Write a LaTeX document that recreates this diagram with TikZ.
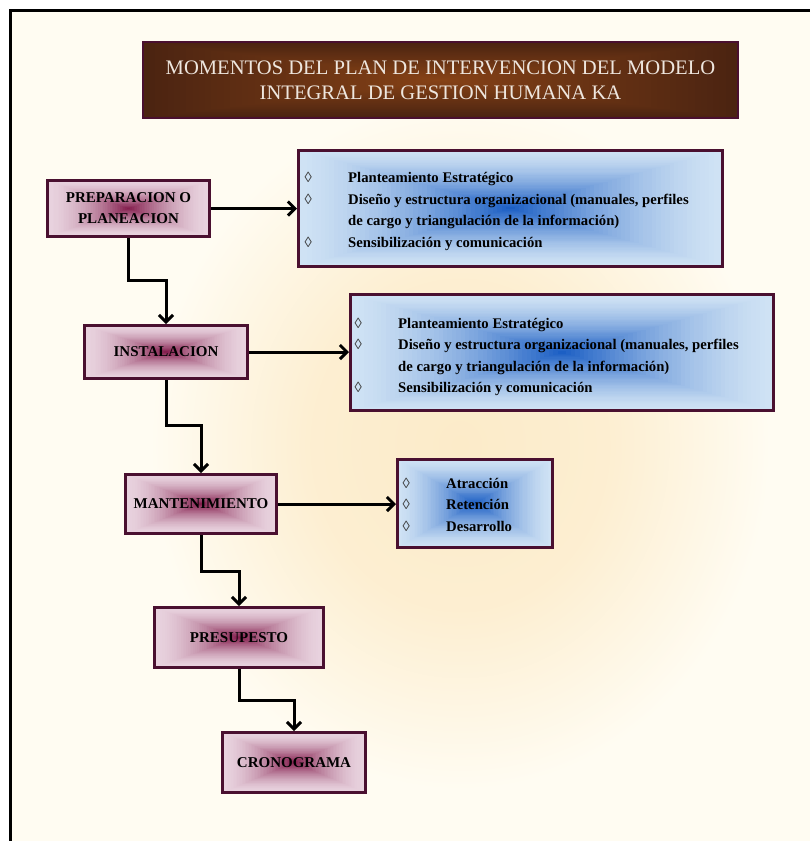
\documentclass[tikz,border=0pt]{standalone}
\usepackage{fontspec}
\setmainfont{Liberation Serif}
\usetikzlibrary{arrows.meta,calc}

\definecolor{bgc}{HTML}{FFFCF2}
\definecolor{glowc}{HTML}{FCEBC9}
\definecolor{edgec}{HTML}{4A1030}
\definecolor{pinkedge}{HTML}{E8D2DE}
\definecolor{pinkcore}{HTML}{85204F}
\definecolor{blueedge}{HTML}{CFE2F4}
\definecolor{bluecore}{HTML}{1C5FC4}
\definecolor{brownedge}{HTML}{4A2311}
\definecolor{browncore}{HTML}{864216}
\definecolor{titletext}{HTML}{EEE6DE}
\definecolor{bulletc}{HTML}{3A3A3A}

% soft warm glow behind the diagram (fades to the page colour at the path edge)
\pgfdeclareradialshading{warmglow}{\pgfpoint{0bp}{0bp}}{%
  color(0bp)=(glowc); color(12bp)=(glowc!80!bgc); color(25bp)=(bgc); color(50bp)=(bgc)}

\newcommand{\diam}{{\mdseries\color{bulletc}\char"25CA}}

\begin{document}
\begin{tikzpicture}[x=1pt,y=-1pt,
  % rectangular "from centre" gradient: nested rectangles from edge colour to core colour
  boxgrad/.style n args={3}{path picture={
    \foreach \i in {1,...,48}{
      \pgfmathsetmacro\t{1-(\i-1)/48}
      \pgfmathtruncatemacro\p{100*(\i/48)^#3}
      \fill[#2!\p!#1]
        ($(path picture bounding box.center)!\t!(path picture bounding box.south west)$)
        rectangle
        ($(path picture bounding box.center)!\t!(path picture bounding box.north east)$);
    }}},
  stage/.style={draw=edgec, line width=3pt, boxgrad={pinkedge}{pinkcore}{1.7},
    font=\bfseries\fontsize{15}{21}\selectfont, align=center, inner sep=0pt},
  itembox/.style={draw=edgec, line width=3pt, boxgrad={blueedge}{bluecore}{1.5}, inner sep=0pt},
  itemtext/.style={font=\bfseries\fontsize{14.7}{21.5}\selectfont, align=left, inner sep=0pt, anchor=west},
  conn/.style={line width=3pt, -{Straight Barb[length=7pt,width=14pt]}},
]
\useasboundingbox (0,0) rectangle (810,841);
\fill[white] (0,0) rectangle (810,841);
\fill[bgc] (10.5,10.5) rectangle (810,841);
\fill[shading=warmglow] (150,100) rectangle (770,790);
\draw[line width=3pt] (10.5,841) -- (10.5,10.5) -- (810,10.5);

% title banner
\node[draw=edgec, line width=1.5pt, boxgrad={brownedge}{browncore}{1.0},
      minimum width=595pt, minimum height=76pt, inner sep=0pt,
      text=titletext, font=\fontsize{20.6}{25}\selectfont, align=center]
  (title) at (440.5,80) {MOMENTOS DEL PLAN DE INTERVENCION DEL MODELO\\INTEGRAL DE GESTION HUMANA KA};

% stages
\node[stage, minimum width=162pt, minimum height=56pt] (prep) at (128.5,208.5) {PREPARACION O\\PLANEACION};
\node[stage, minimum width=163pt, minimum height=53pt] (inst) at (166,352) {INSTALACION};
\node[stage, minimum width=151pt, minimum height=59pt] (mant) at (201,504) {MANTENIMIENTO};
\node[stage, minimum width=169pt, minimum height=60pt] (pres) at (239,637.5) {PRESUPESTO};
\node[stage, minimum width=143pt, minimum height=60pt] (cron) at (294,762.5) {CRONOGRAMA};

% activity boxes
\node[itembox, minimum width=424pt, minimum height=116.5pt] (act1) at (510.5,208.25) {};
\node[itembox, minimum width=423pt, minimum height=116pt] (act2) at (562,352.5) {};
\node[itembox, minimum width=155pt, minimum height=88pt] (act3) at (475,503.5) {};

\node[itemtext] (list1) at ($(act1.west)+(7.5,3)$) {%
  \makebox[43.5pt][l]{\diam}Planteamiento Estratégico\\
  \makebox[43.5pt][l]{\diam}Diseño y estructura organizacional (manuales, perfiles\\
  \makebox[43.5pt][l]{}de cargo y triangulación de la información)\\
  \makebox[43.5pt][l]{\diam}Sensibilización y comunicación};
\node[itemtext] (list2) at ($(act2.west)+(5.5,4.5)$) {%
  \makebox[43.5pt][l]{\diam}Planteamiento Estratégico\\
  \makebox[43.5pt][l]{\diam}Diseño y estructura organizacional (manuales, perfiles\\
  \makebox[43.5pt][l]{}de cargo y triangulación de la información)\\
  \makebox[43.5pt][l]{\diam}Sensibilización y comunicación};
\node[itemtext] (list3) at ($(act3.west)+(6.5,1)$) {%
  \makebox[43.5pt][l]{\diam}Atracción\\
  \makebox[43.5pt][l]{\diam}Retención\\
  \makebox[43.5pt][l]{\diam}Desarrollo};

% connectors
\draw[conn] (prep.east) -- (prep.east -| act1.west);
\draw[conn] (inst.east) -- (inst.east -| act2.west);
\draw[conn] (mant.east) -- (mant.east -| act3.west);

\draw[conn] (prep.south) -- ++(0,42) -| (inst.north);
\draw[conn] (inst.south) -- ++(0,45) -| (mant.north);
\draw[conn] (mant.south) -- ++(0,36) -| (pres.north);
\draw[conn] (pres.south) -- ++(0,31) -| (cron.north);
\end{tikzpicture}
\end{document}
